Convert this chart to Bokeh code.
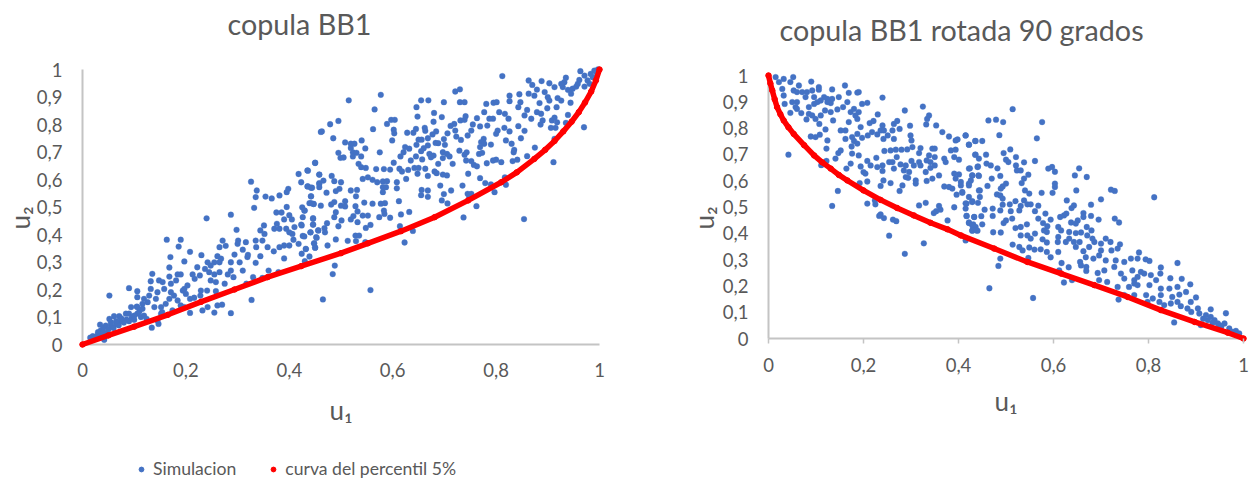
from bokeh.plotting import figure
from bokeh.layouts import row, column
from bokeh.models import Range1d, FixedTicker, Legend, LegendItem
from bokeh.core.properties import value
from bokeh.embed import file_html
from bokeh.resources import INLINE

FONT = "Lato"
GREY = "#595959"
AXIS = "#C4C4C4"
BLUE = "#4472C4"
RED = "#FF0000"

x_ticks = [0, 0.2, 0.4, 0.6, 0.8, 1]
x_labels = ["0", "0,2", "0,4", "0,6", "0,8", "1"]
y_ticks = [0, 0.1, 0.2, 0.3, 0.4, 0.5, 0.6, 0.7, 0.8, 0.9, 1]
y_labels = ["0", "0,1", "0,2", "0,3", "0,4", "0,5", "0,6", "0,7", "0,8", "0,9", "1"]

# left chart: simulated pairs (u1, u2)
sim_left_low = [
(.015,.025),(.02,.03),(.025,.028),(.03,.035),(.03,.045),(.035,.04),(.042,.017),(.035,.05),(.04,.06),(.04,.045),(.045,.04),(.034,.072),
(.052,.093),(.061,.103),(.071,.103),(.045,.069),(.055,.069),(.065,.075),(.074,.085),(.084,.112),(.094,.136),(.105,.138),(.106,.172),
(.09,.112),(.097,.1),(.106,.112),(.113,.1),(.119,.105),(.124,.093),(.134,.061),(.147,.075),(.154,.118),(.05,.055),(.06,.06),(.07,.07),
(.08,.08),(.085,.09),(.09,.085),(.095,.095),(.1,.09),(.1,.105),(.11,.12),(.075,.095),(.065,.085),(.055,.08),
(.052,.178),(.09,.205),(.106,.194),(.163,.381),(.19,.381),(.186,.356),(.208,.337),(.23,.325),(.17,.318),(.197,.302),(.168,.28),
(.106,.136),(.116,.13),(.116,.148),(.126,.154),(.119,.166),(.129,.178),(.142,.166),(.139,.136),(.152,.136),(.161,.148),(.168,.166),
(.184,.16),(.19,.142),(.197,.136),(.177,.178),(.171,.19),(.145,.19),(.158,.202),(.132,.202),(.132,.23),(.135,.257),(.148,.233),
(.155,.227),(.168,.247),(.171,.221),(.181,.233),(.184,.255),(.19,.255),(.194,.196),(.2,.184),(.197,.202),(.203,.215),(.208,.166),
(.216,.17),(.208,.115),(.232,.124),(.242,.136),(.27,.145),(.261,.142),(.255,.116),(.287,.114),(.327,.162),(.174,.124),(.152,.112),(.145,.087),
]
sim_left_lowmid = [
(.24,.459),(.287,.472),(.298,.417),(.271,.378),(.301,.378),(.277,.359),(.265,.354),(.228,.178),(.229,.196),(.241,.196),(.258,.194),
(.258,.227),(.248,.233),(.217,.239),(.213,.255),(.227,.251),(.222,.281),(.237,.275),(.242,.299),(.255,.299),(.265,.299),(.261,.321),
(.268,.312),(.245,.263),(.248,.287),(.255,.255),(.265,.263),(.275,.221),(.281,.255),(.292,.245),(.287,.269),(.31,.269),(.287,.299),
(.304,.299),(.319,.318),(.294,.327),(.3,.366),(.31,.345),(.316,.372),(.32,.326),(.335,.297),(.344,.321),(.336,.354),(.335,.378),
(.344,.415),(.351,.433),(.352,.402),(.348,.378),(.358,.354),(.37,.339),(.381,.354),(.39,.36),(.4,.36),(.408,.381),(.41,.427),(.406,.402),
(.4,.408),(.394,.421),(.376,.439),(.371,.421),(.381,.421),(.39,.313),(.317,.221),(.33,.245),(.348,.242),(.36,.269),(.379,.263),
(.326,.592),(.337,.56),(.335,.536),(.332,.497),(.354,.538),(.366,.531),(.381,.542),(.395,.554),(.398,.566),(.418,.62),(.435,.633),
(.45,.66),(.461,.773),(.423,.59),(.435,.575),(.444,.57),(.458,.584),(.458,.618),(.442,.539),(.439,.514),(.447,.511),(.425,.499),
(.43,.487),(.426,.463),(.423,.436),(.446,.457),(.446,.436),(.456,.415),(.441,.408),(.452,.39),(.448,.368),(.426,.395),(.418,.366),
(.432,.348),(.45,.352),(.385,.48),(.395,.5),(.4,.47),(.405,.455),(.39,.455),(.375,.48),
]
sim_left_mid = [
(.463,.775),(.479,.801),(.495,.813),(.515,.888),(.565,.855),(.577,.908),(.562,.783),(.485,.75),(.508,.735),(.54,.742),(.519,.73),(.526,.73),
(.519,.715),(.547,.713),(.523,.699),(.53,.697),(.495,.697),(.499,.679),(.505,.68),(.523,.684),(.539,.684),(.575,.699),(.45,.661),(.436,.632),
(.534,.657),(.539,.645),(.548,.642),(.568,.638),(.583,.638),(.595,.636),(.458,.618),(.482,.613),(.466,.596),(.458,.587),(.5,.59),(.487,.594),
(.542,.602),(.552,.608),(.561,.599),(.57,.59),(.581,.593),(.589,.594),(.608,.59),(.626,.602),(.436,.575),(.442,.57),(.458,.572),(.497,.566),
(.49,.558),(.472,.552),(.519,.56),(.531,.562),(.529,.539),(.581,.572),(.587,.572),(.581,.554),(.608,.568),(.442,.539),(.442,.514),(.447,.511),
(.461,.505),(.481,.509),(.487,.518),(.5,.505),(.508,.521),(.508,.502),(.528,.503),(.545,.516),(.561,.512),(.577,.512),(.585,.514),(.612,.521),
(.429,.487),(.49,.481),(.487,.463),(.501,.451),(.519,.455),(.532,.484),(.542,.469),(.552,.469),(.524,.467),(.532,.445),(.583,.487),(.574,.463),
(.584,.475),(.595,.461),(.616,.473),(.632,.482),(.446,.459),(.446,.436),(.424,.433),(.473,.441),(.468,.423),(.469,.408),(.495,.43),(.557,.435),
(.548,.424),(.614,.43),(.639,.413),(.441,.408),(.456,.415),(.429,.393),(.453,.388),(.448,.368),(.49,.382),(.474,.36),(.432,.347),(.45,.352),
(.513,.377),(.528,.396),(.535,.396),(.529,.376),(.547,.372),(.623,.371),(.424,.33),(.439,.32),(.43,.303),(.488,.287),(.484,.256),(.465,.164),(.557,.198),
]
sim_left_high = [
(.646,.863),(.655,.888),(.669,.888),(.699,.881),(.648,.829),(.68,.842),(.695,.827),(.679,.81),(.721,.92),(.73,.928),(.73,.881),(.739,.881),
(.597,.817),(.604,.817),(.589,.802),(.602,.781),(.603,.768),(.599,.742),(.628,.77),(.64,.77),(.645,.784),(.662,.788),(.663,.777),(.684,.775),
(.677,.764),(.65,.745),(.668,.75),(.656,.745),(.646,.726),(.668,.724),(.683,.733),(.688,.732),(.699,.747),(.701,.726),(.624,.718),(.632,.712),
(.621,.699),(.615,.684),(.602,.661),(.66,.714),(.655,.703),(.671,.693),(.679,.687),(.674,.681),(.645,.684),(.657,.673),(.635,.669),(.697,.699),
(.705,.693),(.71,.684),(.697,.678),(.688,.657),(.716,.657),(.613,.639),(.63,.635),(.642,.642),(.65,.642),(.663,.639),(.648,.621),(.618,.629),
(.668,.613),(.681,.629),(.685,.623),(.697,.618),(.705,.615),(.692,.578),(.656,.562),(.668,.56),(.655,.543),(.668,.537),(.699,.547),(.713,.56),
(.695,.524),(.706,.513),(.737,.462),(.735,.578),(.746,.621),(.769,.605),(.779,.587),(.79,.582),(.797,.554),(.819,.581),(.817,.608),(.745,.548),
(.752,.548),(.748,.536),(.762,.503),(.854,.456),(.911,.663),(.97,.79),(.913,.748),(.875,.716),(.86,.685),(.841,.672),(.832,.667),(.834,.699),
(.835,.708),(.81,.663),(.8,.672),(.794,.669),(.782,.659),(.773,.697),(.767,.693),(.763,.648),(.757,.653),(.752,.667),(.742,.669),(.729,.705),
(.743,.699),(.739,.69),(.732,.744),(.723,.756),(.706,.768),(.721,.778),(.712,.795),(.719,.802),(.731,.815),(.739,.817),(.741,.83),(.745,.76),
(.752,.778),(.755,.8),(.763,.823),(.769,.793),(.783,.796),(.781,.875),(.777,.845),(.795,.879),(.801,.881),(.812,.976),(.776,.748),(.771,.736),
(.777,.73),(.769,.718),(.79,.727),(.803,.778),(.8,.766),(.816,.788),(.826,.775),(.794,.821),(.787,.821),(.806,.845),(.817,.839),(.824,.821),
(.843,.794),(.855,.777),(.848,.75),(.819,.742),(.83,.73),(.845,.91),(.863,.912),(.826,.905),(.826,.885),(.847,.881),(.843,.863),(.86,.853),
(.855,.833),(.868,.821),(.884,.878),(.874,.905),(.879,.845),(.887,.839),(.89,.815),(.886,.8),(.908,.815),(.913,.825),(.918,.808),(.906,.788),
(.915,.788),(.935,.806),(.939,.835),(.944,.879),(.926,.887),(.917,.863),(.903,.887),(.899,.859),(.894,.918),(.903,.95),(.888,.958),(.87,.944),
(.863,.96),(.879,.927),(.913,.936),(.9,.899),(.919,.896),(.932,.954),(.929,.936),(.935,.97),(.939,.926),(.948,.93),(.955,.938),(.963,.994),
(.961,.962),(.971,.978),(.971,.938),(.977,.96),(.983,.984),(.99,.996),(.994,.99),(.987,.972),(.981,.948),(.997,1.0),(.958,.948),(.945,.912),(.926,.948),
]
# left chart: 5% percentile curve
curve_left_u1 = [0, .05, .1, .165, .229, .294, .358, .423, .5, .552, .616, .681, .746, .81, .84, .874, .895, .913, .93, .946, .96, .972, .984, .993, 1]
curve_left_u2 = [0, .033, .065, .108, .155, .2, .245, .285, .332, .368, .412, .463, .524, .59, .626, .675, .708, .74, .775, .81, .845, .88, .92, .96, 1]

# right chart: simulated pairs (u1, u2)
sim_right_upper = [
(.042,.699),(.015,.994),(.032,.987),(.052,.994),(.022,.975),(.046,.975),(.029,.949),(.064,.962),(.053,.943),(.06,.937),(.032,.924),(.071,.937),
(.09,.977),(.106,.956),(.106,.946),(.081,.937),(.092,.943),(.078,.918),(.096,.918),(.117,.918),(.134,.947),(.124,.911),(.134,.911),(.148,.918),
(.161,.962),(.169,.934),(.166,.899),(.187,.935),(.19,.937),(.197,.892),(.208,.896),(.24,.916),(.157,.88),(.145,.871),(.131,.895),(.124,.899),
(.11,.905),(.103,.899),(.096,.892),(.085,.88),(.06,.899),(.05,.899),(.034,.892),(.057,.88),(.06,.873),(.046,.858),(.069,.857),(.08,.833),
(.085,.854),(.092,.848),(.099,.835),(.107,.816),(.11,.848),(.119,.867),(.131,.861),(.136,.829),(.12,.795),(.089,.768),(.099,.766),(.108,.775),
(.124,.753),(.122,.722),(.111,.659),(.122,.675),(.141,.684),(.147,.705),(.152,.715),(.146,.561),(.134,.504),(.162,.759),(.152,.791),(.162,.791),
(.169,.823),(.173,.861),(.18,.873),(.19,.861),(.183,.848),(.187,.835),(.194,.804),(.187,.778),(.176,.766),(.18,.751),(.175,.73),(.187,.741),
(.197,.763),(.209,.772),(.213,.819),(.221,.827),(.23,.852),(.24,.81),(.218,.785),(.229,.776),(.236,.791),(.243,.791),(.242,.759),(.251,.772),
(.261,.791),(.264,.759),(.264,.816),(.271,.827),(.276,.797),(.287,.867),(.298,.809),(.299,.772),(.301,.753),(.325,.882),(.332,.814),(.334,.835),
(.338,.848),(.353,.81),(.366,.785),(.38,.768),(.394,.753),(.398,.757),(.415,.772),(.422,.737),(.435,.751),(.435,.699),(.443,.684),
]
sim_right_mid = [
(.303,.728),(.292,.719),(.28,.718),(.268,.718),(.257,.715),(.244,.713),(.27,.69),(.254,.671),(.261,.671),(.227,.687),(.208,.675),(.19,.696),
(.176,.703),(.173,.665),(.164,.646),(.194,.654),(.2,.633),(.204,.627),(.215,.658),(.229,.652),(.24,.658),(.24,.637),(.264,.646),(.278,.662),
(.289,.658),(.285,.639),(.296,.633),(.301,.675),(.317,.671),(.32,.658),(.306,.658),(.333,.677),(.338,.696),(.345,.722),(.35,.722),(.32,.724),
(.317,.705),(.35,.69),(.341,.671),(.35,.658),(.359,.62),(.341,.649),(.331,.633),(.345,.608),(.333,.599),(.31,.601),(.31,.589),(.294,.611),
(.289,.614),(.282,.582),(.257,.591),(.242,.601),(.236,.58),(.208,.597),(.192,.591),(.276,.561),(.208,.513),(.224,.525),(.225,.51),(.233,.466),
(.236,.472),(.243,.458),(.262,.452),(.269,.446),(.254,.391),(.287,.322),(.327,.362),(.317,.506),(.331,.516),(.348,.477),(.353,.484),(.359,.504),
(.362,.49),(.377,.449),(.391,.499),(.37,.684),(.373,.671),(.384,.715),(.394,.718),(.391,.69),(.401,.68),(.37,.578),(.38,.576),(.387,.57),
(.396,.547),(.408,.554),(.391,.627),(.401,.624),(.394,.608),(.405,.595),(.405,.582),(.422,.589),(.422,.646),(.429,.62),(.426,.601),(.44,.652),
(.442,.62),(.443,.563),(.422,.538),(.429,.522),(.417,.513),(.415,.494),(.417,.466),(.433,.462),(.422,.441),(.431,.434),(.436,.424),(.429,.41),
(.44,.41),(.415,.373),
]
sim_right_center = [
(.514,.872),(.463,.829),(.479,.832),(.494,.823),(.576,.823),(.486,.773),(.565,.761),(.415,.772),(.436,.751),(.45,.751),(.422,.737),(.509,.719),
(.495,.705),(.436,.699),(.458,.699),(.521,.69),(.5,.68),(.505,.671),(.538,.67),(.561,.675),(.459,.665),(.468,.658),(.441,.654),(.424,.647),
(.482,.647),(.521,.658),(.523,.639),(.531,.639),(.589,.646),(.597,.652),(.603,.634),(.654,.647),(.645,.62),(.67,.614),(.547,.623),(.488,.618),
(.443,.618),(.429,.62),(.47,.608),(.538,.608),(.533,.591),(.422,.582),(.461,.58),(.5,.589),(.493,.578),(.489,.57),(.603,.589),(.603,.576),
(.648,.563),(.408,.557),(.445,.563),(.54,.563),(.549,.551),(.575,.554),(.598,.554),(.721,.566),(.729,.561),(.812,.537),(.481,.548),(.488,.544),
(.493,.532),(.445,.538),(.429,.519),(.441,.516),(.52,.522),(.538,.525),(.545,.51),(.552,.51),(.568,.505),(.628,.525),(.643,.506),(.638,.496),
(.679,.509),(.7,.529),(.415,.514),(.493,.509),(.508,.51),(.531,.504),(.472,.494),(.455,.49),(.488,.487),(.51,.484),(.561,.484),(.528,.487),
(.417,.466),(.433,.462),(.448,.465),(.472,.466),(.5,.449),(.513,.456),(.495,.439),(.568,.456),(.583,.475),(.594,.452),(.614,.462),(.622,.468),
(.627,.475),(.651,.449),(.663,.477),(.663,.462),(.679,.466),(.695,.452),(.729,.456),(.738,.441),(.637,.441),(.422,.439),(.45,.434),(.429,.43),
(.429,.411),(.438,.411),(.473,.404),(.489,.403),(.52,.42),(.531,.424),(.544,.434),(.578,.439),(.587,.427),(.58,.411),(.586,.405),(.561,.399),
(.531,.392),(.545,.392),(.552,.38),(.61,.424),(.616,.411),(.633,.405),(.647,.437),(.647,.401),(.658,.403),(.67,.424),(.68,.411),(.671,.392),
]
sim_right_lower = [
(.61,.386),(.633,.38),(.609,.367),(.577,.377),(.586,.365),(.626,.367),(.643,.367),(.655,.367),(.647,.348),(.682,.38),(.686,.367),(.675,.348),
(.7,.361),(.71,.38),(.72,.367),(.74,.358),(.735,.342),(.722,.335),(.514,.357),(.528,.348),(.535,.335),(.549,.346),(.56,.338),(.573,.339),
(.586,.329),(.61,.329),(.663,.332),(.7,.335),(.696,.316),(.684,.304),(.71,.297),(.594,.309),(.668,.309),(.488,.304),(.484,.276),(.547,.306),
(.617,.287),(.632,.271),(.656,.291),(.658,.278),(.669,.272),(.669,.257),(.612,.259),(.731,.297),(.749,.291),(.763,.304),(.78,.327),(.777,.304),
(.794,.301),(.802,.295),(.826,.27),(.861,.287),(.728,.272),(.707,.259),(.693,.249),(.696,.222),(.713,.215),(.622,.213),(.639,.222),(.742,.247),
(.749,.228),(.766,.259),(.77,.222),(.777,.234),(.784,.253),(.791,.247),(.805,.241),(.825,.247),(.846,.229),(.87,.227),(.888,.206),(.735,.196),
(.759,.196),(.77,.209),(.777,.203),(.802,.203),(.816,.222),(.826,.19),(.844,.19),(.861,.196),(.879,.177),(.465,.191),(.557,.154),(.737,.148),
(.749,.165),(.77,.165),(.795,.165),(.809,.152),(.826,.165),(.85,.158),(.865,.167),(.9,.156),(.798,.139),(.823,.139),(.833,.127),(.847,.133),
(.861,.139),(.889,.139),(.882,.114),(.868,.123),(.854,.061),(.963,.096),(.931,.111),(.904,.114),(.907,.095),(.89,.101),(.921,.089),(.931,.082),
(.939,.07),(.925,.07),(.91,.051),(.946,.057),(.96,.057),(.97,.038),(.984,.029),(.991,.019),(.953,.044),(.977,.025),(.915,.075),(.935,.06),(.95,.05),
]
# right chart: 5% percentile curve
curve_right_u1 = [0, .004, .008, .013, .018, .025, .032, .042, .053, .075, .096, .113, .131, .148, .166, .2, .236, .271, .306, .341, .377, .405, .475, .545, .616, .686, .756, .826, .897, .967, 1]
curve_right_u2 = [1, .97, .943, .91, .88, .853, .829, .803, .778, .735, .696, .67, .646, .622, .601, .563, .527, .496, .468, .44, .415, .392, .342, .291, .247, .203, .158, .108, .063, .022, 0]

PAD = 5
TOP_EXTRA = 58   # the frame runs up over the title so that the title can sit where it does
TITLE_RISE = 41


def chart(title, title_offset, sim, cu1, cu2, width, height, b_left, f_w, f_h, tick_len, x_standoff, x_label_standoff, y_label_standoff, margin_top):
    sx = (f_w - 2 * PAD)
    sy = (f_h - 2 * PAD)
    frame_h = f_h + TOP_EXTRA
    p = figure(width=width, height=height, output_backend="svg", toolbar_location=None,
               frame_width=f_w, frame_height=frame_h,
               x_range=Range1d(-PAD / sx, 1 + PAD / sx), y_range=Range1d(-PAD / sy, 1 + (PAD + TOP_EXTRA) / sy),
               min_border_left=b_left, min_border_right=width - b_left - f_w,
               min_border_top=6, min_border_bottom=height - 6 - frame_h,
               margin=(margin_top, 0, 0, 0))
    p.outline_line_color = None
    p.grid.visible = False

    p.text([(title_offset - PAD) / sx], [1 + (PAD + TITLE_RISE) / sy], text=[title],
           text_font=value(FONT), text_font_size="28.7px", text_color=GREY, text_baseline="middle")

    for ax, ticks, labels in ((p.xaxis[0], x_ticks, x_labels), (p.yaxis[0], y_ticks, y_labels)):
        ax.ticker = FixedTicker(ticks=ticks)
        ax.major_label_overrides = dict(zip(ticks, labels))
        ax.bounds = (ticks[0], ticks[-1])
        ax.axis_line_color = None
        ax.minor_tick_line_color = None
        ax.major_label_text_font = FONT
        ax.major_label_text_font_size = "18.5px"
        ax.major_label_text_color = GREY
        ax.axis_label_text_font = FONT
        ax.axis_label_text_font_size = "26px"
        ax.axis_label_text_font_style = "normal"
        ax.axis_label_text_color = GREY
        ax.major_tick_out = 0
    p.xaxis[0].major_tick_in = tick_len
    p.xaxis[0].major_tick_line_color = AXIS if tick_len else None
    p.xaxis[0].major_tick_line_width = 1.5
    p.yaxis[0].major_tick_in = 0
    p.yaxis[0].major_tick_line_color = None
    p.xaxis[0].axis_label = "u\u2081"
    # the label is centred on the whole frame; trailing no-break spaces bring it back down beside the 0-1 scale
    p.yaxis[0].axis_label = "u\u2082" + "\u00a0" * 12
    p.xaxis[0].major_label_standoff = x_standoff
    p.yaxis[0].major_label_standoff = 15
    p.xaxis[0].axis_label_standoff = x_label_standoff
    p.yaxis[0].axis_label_standoff = y_label_standoff

    # axis rules sit on u1 = 0 and u2 = 0
    p.line([x_ticks[0], x_ticks[-1]], [y_ticks[0], y_ticks[0]], line_color=AXIS, line_width=2)
    p.line([x_ticks[0], x_ticks[0]], [y_ticks[0], y_ticks[-1]], line_color=AXIS, line_width=2)

    xs = [a for a, _ in sim]
    ys = [b for _, b in sim]
    p.scatter(xs, ys, size=5.8, color=BLUE, line_color=BLUE, line_width=0.3)
    p.line(cu1, cu2, line_color=RED, line_width=5.5, line_cap="round", line_join="round")
    p.scatter(cu1, cu2, size=5.5, color=RED)
    return p


left = chart("copula BB1", 150, sim_left_low + sim_left_lowmid + sim_left_mid + sim_left_high,
             curve_left_u1, curve_left_u2, 640, 436, 77, 527, 285, 0, 13, 14, -2, 0)

right = chart("copula BB1 rotada 90 grados", 16,
              sim_right_upper + sim_right_mid + sim_right_center + sim_right_lower,
              curve_right_u1, curve_right_u2, 610, 475, 123, 485, 273, 5, 14, 10, 0, 6)

# the legend lies under the left chart, in a strip of its own; its keys take
# their look from one sample each, which lies outside the strip's ranges
strip = figure(width=640, height=45, output_backend="svg", toolbar_location=None,
               x_range=Range1d(0, 1), y_range=Range1d(0, 1),
               min_border_left=0, min_border_right=0, min_border_top=0, min_border_bottom=0)
strip.axis.visible = False
strip.grid.visible = False
strip.outline_line_color = None
key_sim = strip.scatter([-1], [-1], size=5.8, color=BLUE)
key_curve = strip.scatter([-1], [-1], size=5.5, color=RED)
legend = Legend(items=[LegendItem(label="Simulacion", renderers=[key_sim]),
                       LegendItem(label="curva del percentil 5%", renderers=[key_curve])],
                orientation="horizontal", location=(56, 0),
                border_line_alpha=0, background_fill_alpha=0,
                label_text_font=FONT, label_text_font_size="17.6px", label_text_color=GREY,
                glyph_width=12, glyph_height=12, spacing=31, padding=2, margin=0, label_standoff=6)
strip.add_layout(legend)

page = row(column(left, strip, spacing=0), right, spacing=0)
open("out.html", "w").write(file_html(page, INLINE))
